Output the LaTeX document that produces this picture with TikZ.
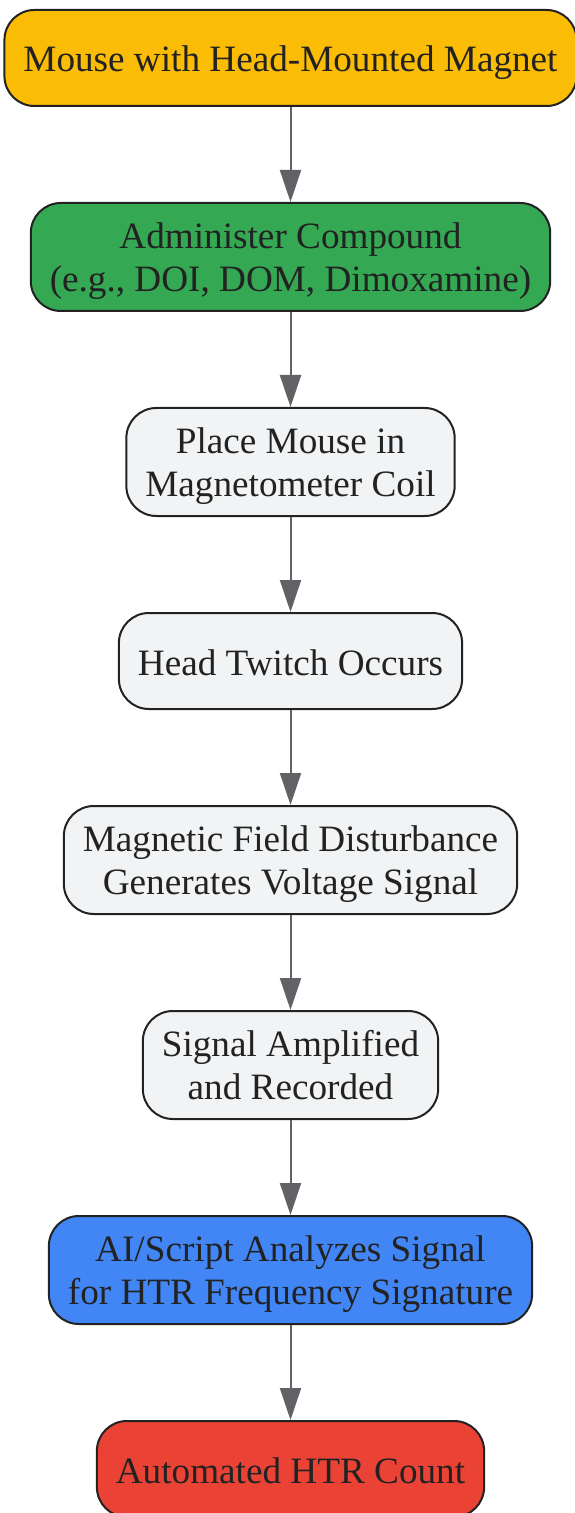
\documentclass[tikz,border=0pt]{standalone}
\usepackage{fontspec}
\setmainfont{Liberation Serif}
\usepackage{tikz}
\usetikzlibrary{positioning, arrows.meta}
\usepackage{xcolor}
\definecolor{gyellow}{HTML}{FBBC05}
\definecolor{ggreen}{HTML}{34A853}
\definecolor{ggray}{HTML}{F1F3F4}
\definecolor{gblue}{HTML}{4285F4}
\definecolor{gred}{HTML}{EA4335}
\definecolor{edge}{HTML}{222222}
\definecolor{link}{HTML}{606266}

\begin{document}
\begin{tikzpicture}[
	box/.style={draw=edge, line width=1pt, rounded corners=15pt, align=center, text=edge,
		font=\fontsize{18.6pt}{21.5pt}\selectfont, inner xsep=9.5pt, inner ysep=0pt,
		minimum height=48pt, text height=17.5pt, text depth=3.5pt},
	twoline/.style={minimum height=54pt, text height=38pt, text depth=3.5pt},
	flow/.style={draw=link, line width=1pt, -{Triangle[length=16pt,width=10.5pt]}},
	node distance=47.5pt]
	\useasboundingbox (0,0) rectangle (287pt,-756.5pt);
	\node[name=mouse, box, fill=gyellow] at (145.25pt,-29pt) {Mouse with Head-Mounted Magnet};
	\node[name=compound, box, twoline, fill=ggreen, below=of mouse] {Administer Compound\\(e.g., DOI, DOM, Dimoxamine)};
	\node[name=coil, box, twoline, fill=ggray, below=of compound] {Place Mouse in\\Magnetometer Coil};
	\node[name=twitch, box, fill=ggray, below=of coil] {Head Twitch Occurs};
	\node[name=field, box, twoline, fill=ggray, below=of twitch] {Magnetic Field Disturbance\\Generates Voltage Signal};
	\node[name=amp, box, twoline, fill=ggray, below=of field] {Signal Amplified\\and Recorded};
	\node[name=script, box, twoline, fill=gblue, below=of amp] {AI/Script Analyzes Signal\\for HTR Frequency Signature};
	\node[name=count, box, fill=gred, below=of script] {Automated HTR Count};
	\draw[flow] (mouse) -- (compound);
	\draw[flow] (compound) -- (coil);
	\draw[flow] (coil) -- (twitch);
	\draw[flow] (twitch) -- (field);
	\draw[flow] (field) -- (amp);
	\draw[flow] (amp) -- (script);
	\draw[flow] (script) -- (count);
\end{tikzpicture}
\end{document}
